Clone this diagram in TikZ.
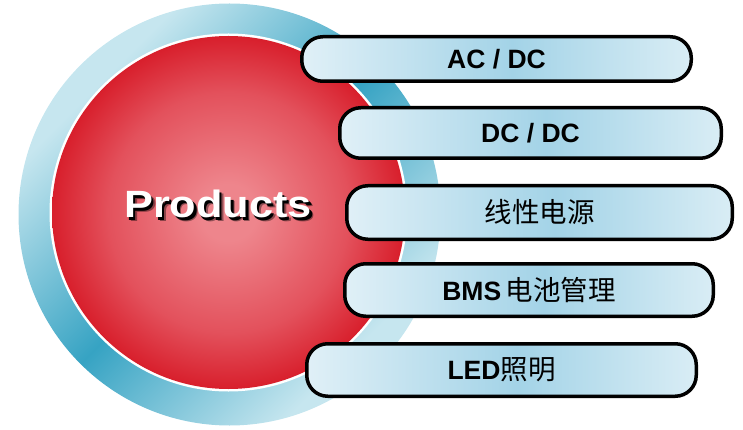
\documentclass[tikz,border=0pt]{standalone}
\usepackage{fontspec}
\setmainfont{Liberation Sans}
\newfontfamily\cjkfam{Noto Sans CJK SC}
\newcommand{\zhtext}[1]{{\cjkfam\mdseries\fontsize{27.5}{30}\selectfont #1}}
\definecolor{ringlight}{HTML}{C6E6EF}
\definecolor{ringdark}{HTML}{36A3C3}
\definecolor{redpink}{HTML}{EE858C}
\definecolor{redmid}{HTML}{E3515C}
\definecolor{reddeep}{HTML}{D81F2C}
\definecolor{pilllight}{HTML}{E0F0F7}
\definecolor{pilldark}{HTML}{A3D3E7}
\definecolor{pillright}{HTML}{D9EDF5}
\pgfdeclarehorizontalshading{ringshade}{100bp}{color(0bp)=(ringlight); color(28bp)=(ringlight); color(50bp)=(ringdark); color(72bp)=(ringlight); color(100bp)=(ringlight)}
\pgfdeclareradialshading{redball}{\pgfpoint{0bp}{0bp}}{color(0bp)=(redpink); color(4bp)=(redpink); color(17bp)=(redmid); color(25bp)=(reddeep); color(50bp)=(reddeep)}
\pgfdeclarehorizontalshading{pillshade}{100bp}{color(0bp)=(pilllight); color(25bp)=(pilllight); color(52bp)=(pilldark); color(75bp)=(pillright); color(100bp)=(pillright)}
\begin{document}
\begin{tikzpicture}[x=1pt,y=-1pt,
  pill/.style={draw=black, line width=3.5pt, rounded corners=21pt, shade, shading=pillshade,
    inner sep=0pt, font=\fontsize{26.5}{30}\selectfont\bfseries},
  prodtext/.style={anchor=base, inner sep=0pt, font=\fontsize{38}{42}\selectfont\bfseries}]
\useasboundingbox (0,0) rectangle (743,430);
% ring and ball
\node[circle, minimum size=422pt, inner sep=0pt, shade, shading=ringshade, shading angle=-45] (ring) at (229.5,214.5) {};
\node[circle, fill=white, minimum size=358pt, inner sep=0pt] (gap) at (228.5,212.5) {};
\node[circle, minimum size=353pt, inner sep=0pt, shade, shading=redball] (ball) at (228.5,212.5) {};
% Products label with drop shadow
\node[prodtext, text=black, opacity=0.4] (prodshadowb) at (222,221.5) {\scalebox{1.14}[1]{Products}};
\node[prodtext, text=black] (prodshadow) at (220.5,220.2) {\scalebox{1.14}[1]{Products}};
\node[prodtext, text=white] (prod) at (218,217.7) {\scalebox{1.14}[1]{Products}};
% pills
\node[pill, minimum width=389.5pt, minimum height=44.5pt] (p1) at (496.5,59) {AC / DC};
\node[pill, minimum width=381.5pt, minimum height=50.5pt] (p2) at (530.5,133) {DC / DC};
\node[pill, minimum width=385.5pt, minimum height=53.5pt] (p3) at (539.5,212.5) {\zhtext{线性电源}};
\node[pill, minimum width=368.5pt, minimum height=52.5pt] (p4) at (529,290) {BMS\,\zhtext{电池管理}};
\node[pill, minimum width=389.5pt, minimum height=52.5pt] (p5) at (501.5,370) {LED\zhtext{照明}};
\end{tikzpicture}
\end{document}
